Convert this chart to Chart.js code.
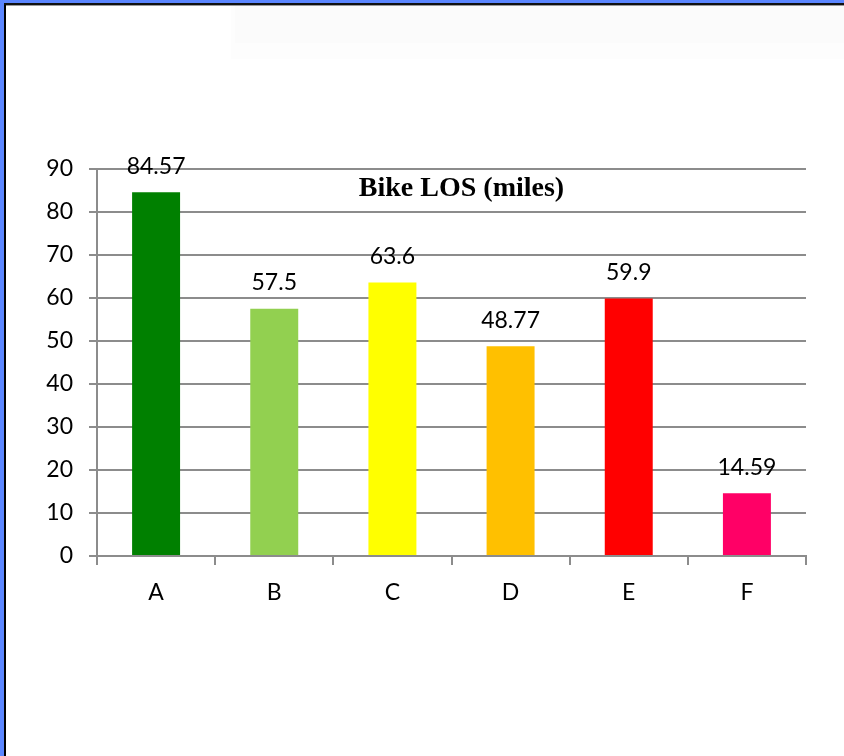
<!DOCTYPE html>
<html>
<head>
<meta charset="utf-8">
<script src="https://cdn.jsdelivr.net/npm/chart.js@4/dist/chart.umd.min.js"></script>
<style>
    html, body { margin: 0; padding: 0; background: #fff; }
    #frame {
        position: relative;
        width: 844px;
        height: 756px;
        overflow: hidden;
        background: #fff;
    }
    #frame .edgeLeft { position: absolute; left: 0; top: 0; width: 4px; height: 756px; background: #5b86ff; }
    #frame .edgeLeft2 { position: absolute; left: 4px; top: 3px; width: 2px; height: 753px; background: #000; }
    #frame .edgeTop { position: absolute; left: 0; top: 0; width: 844px; height: 3px; background: #5b86ff; }
    #frame .edgeTop2 { position: absolute; left: 4px; top: 3px; width: 840px; height: 2px; background: #111; }
    #frame .edgeTop3 { position: absolute; left: 6px; top: 5px; width: 838px; height: 1px; background: #999; }
    #frame .shade { position: absolute; left: 231px; top: 6px; width: 613px; height: 53px; background: #fdfdfd; }
    #frame .shade2 { position: absolute; left: 235px; top: 6px; width: 609px; height: 37px; background: #fbfbfb; }
    #chartCanvas { position: absolute; left: 0; top: 0; }
</style>
</head>
<body>
<div id="frame">
    <div class="shade"></div>
    <div class="shade2"></div>
    <canvas id="chartCanvas" width="844" height="756"></canvas>
    <div class="edgeLeft"></div>
    <div class="edgeLeft2"></div>
    <div class="edgeTop"></div>
    <div class="edgeTop2"></div>
    <div class="edgeTop3"></div>
</div>
<script>
const categories = ['A', 'B', 'C', 'D', 'E', 'F'];
const losValues = [84.57, 57.5, 63.6, 48.77, 59.9, 14.59];
const barColors = ['#008000', '#92d050', '#ffff00', '#ffc000', '#ff0000', '#ff0066'];
const chartTitle = 'Bike LOS (miles)';

const gridGray = '#8c8c8c';
const labelFont = { family: 'Lato, "Open Sans", sans-serif', size: 23 };

// value labels above every bar, plus the title inside the plot
const barLabels = {
    id: 'barLabels',
    afterDatasetsDraw(chart) {
        const ctx = chart.ctx;
        const meta = chart.getDatasetMeta(0);
        ctx.save();
        ctx.fillStyle = '#000';
        ctx.font = `${labelFont.size}px ${labelFont.family}`;
        ctx.textAlign = 'center';
        ctx.textBaseline = 'middle';
        meta.data.forEach((bar, i) => {
            ctx.fillText(String(losValues[i]), bar.x, bar.y - 26);
        });
        const area = chart.chartArea;
        ctx.font = 'bold 28px "Liberation Serif", "Times New Roman", serif';
        ctx.fillText(chartTitle, (area.left + area.right) / 2 + 10, area.top + 20);
        ctx.restore();
    }
};

const canvas = document.getElementById('chartCanvas');
new Chart(canvas.getContext('2d'), {
    type: 'bar',
    data: {
        labels: categories,
        datasets: [{
            data: losValues,
            backgroundColor: barColors,
            borderWidth: 0,
            categoryPercentage: 1.0,
            barPercentage: 0.406
        }]
    },
    options: {
        responsive: false,
        animation: false,
        layout: {
            padding: { left: 0, top: 169, right: 38, bottom: 0 }
        },
        plugins: {
            legend: { display: false },
            tooltip: { enabled: false },
            title: { display: false }
        },
        scales: {
            x: {
                afterFit: (s) => { s.height = 200; },
                grid: {
                    display: true,
                    offset: true,
                    drawOnChartArea: false,
                    drawTicks: true,
                    tickLength: 9,
                    color: gridGray,
                    lineWidth: 2
                },
                border: { display: true, color: gridGray, width: 2 },
                ticks: {
                    color: '#000',
                    font: labelFont,
                    padding: 14
                }
            },
            y: {
                min: 0,
                max: 90,
                afterFit: (s) => { s.width = 97; },
                grid: {
                    color: gridGray,
                    lineWidth: 2,
                    tickLength: 8
                },
                border: { display: true, color: gridGray, width: 2 },
                ticks: {
                    stepSize: 10,
                    color: '#000',
                    font: labelFont,
                    padding: 16
                }
            }
        }
    },
    plugins: [barLabels]
});
</script>
</body>
</html>
